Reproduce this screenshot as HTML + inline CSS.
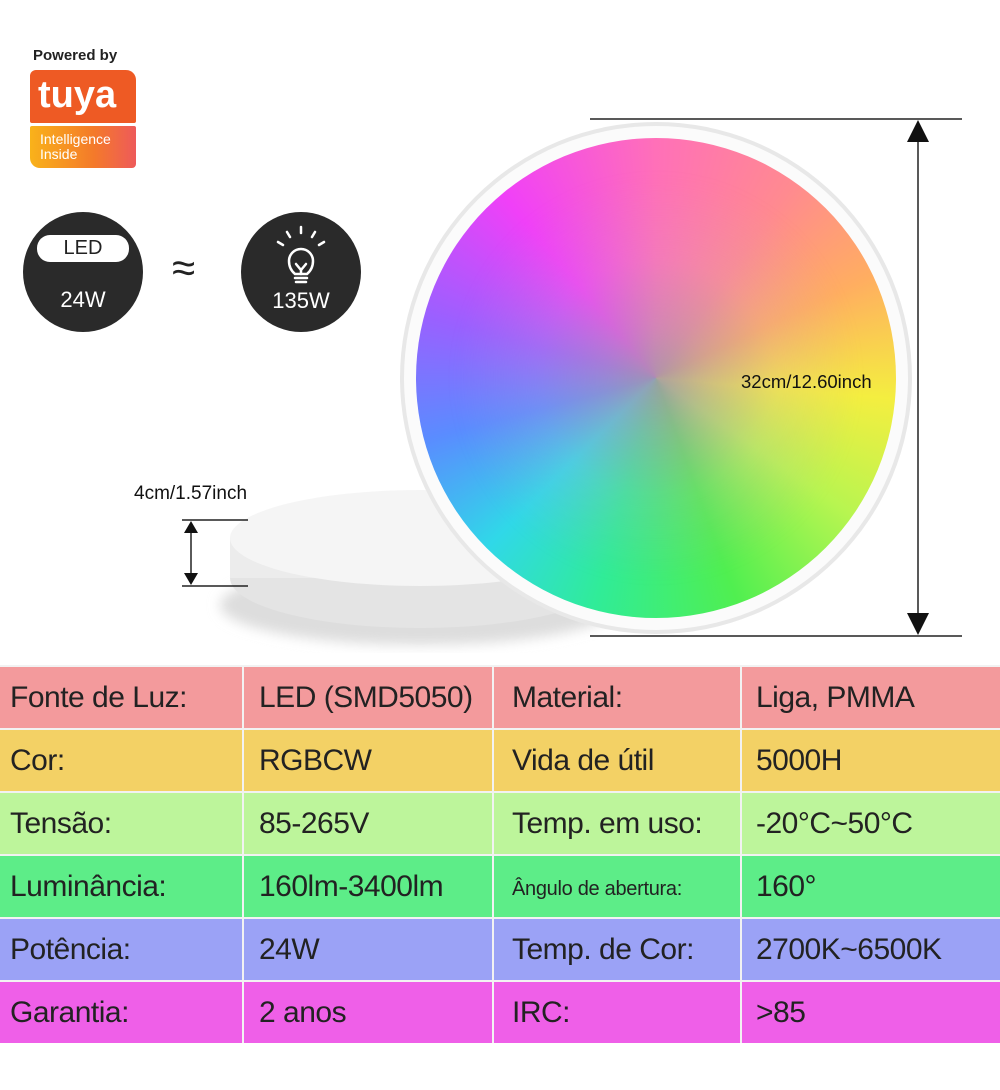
<!DOCTYPE html>
<html><head><meta charset="utf-8"><style>
*{margin:0;padding:0;box-sizing:border-box}
body{width:1000px;height:1090px;background:#fff;position:relative;overflow:hidden;font-family:"Liberation Sans",sans-serif;color:#1a1a1a}
.abs{position:absolute}
.cell{position:absolute;height:61px;font-size:30px;line-height:61px;padding-left:10px;white-space:nowrap;color:#222;letter-spacing:-0.5px}
</style></head><body>
<!-- tuya -->
<div class="abs" style="left:33px;top:47px;font-size:15px;font-weight:bold;color:#222">Powered by</div>
<div class="abs" style="left:30px;top:70px;width:106px;height:53px;background:#ee5a24;border-radius:6px 10px 2px 2px;color:#fff;font-size:38px;font-weight:bold;line-height:50px;padding-left:8px;letter-spacing:0px">tuya</div>
<div class="abs" style="left:30px;top:126px;width:106px;height:42px;background:linear-gradient(90deg,#f9b21a,#f47a2a 60%,#ee5a5a);border-radius:2px 2px 4px 10px;color:#fff;font-size:14px;line-height:15px;padding:6px 0 0 10px">Intelligence<br>Inside</div>
<!-- circles -->
<div class="abs" style="left:23px;top:212px;width:120px;height:120px;border-radius:50%;background:#2a2a2a"></div>
<div class="abs" style="left:37px;top:235px;width:92px;height:27px;border-radius:13px;background:#fff;color:#222;font-size:20px;line-height:27px;text-align:center">LED</div>
<div class="abs" style="left:23px;top:287px;width:120px;color:#fff;font-size:22px;text-align:center">24W</div>
<div class="abs" style="left:172px;top:244px;font-size:42px;color:#222">≈</div>
<div class="abs" style="left:241px;top:212px;width:120px;height:120px;border-radius:50%;background:#2a2a2a"></div>
<svg class="abs" style="left:241px;top:212px" width="120" height="120">
<g stroke="#fff" stroke-width="2.5" fill="none" stroke-linecap="round">
<path d="M54 62 Q48 57 48 49 A12 12 0 1 1 72 49 Q72 57 66 62 Z"/>
<path d="M55 52 L60 58 L65 52 M60 58 V62"/>
<path d="M54 66 H66 M55 70 H65"/>
<path d="M60 15 V21 M46 20 L49 25 M74 20 L71 25 M37 30 L42 33 M83 30 L78 33"/>
</g></svg>
<div class="abs" style="left:241px;top:288px;width:120px;color:#fff;font-size:22px;text-align:center">135W</div>
<!-- lamp -->
<svg class="abs" style="left:0;top:0" width="1000" height="665">
<defs>
<filter id="bl"><feGaussianBlur stdDeviation="6"/></filter>
</defs>
<ellipse cx="420" cy="605" rx="200" ry="40" fill="#ddd" filter="url(#bl)"/>
<ellipse cx="420" cy="578" rx="190" ry="50" fill="#e4e4e4"/>
<rect x="230" y="538" width="380" height="40" fill="#ececec"/>
<ellipse cx="420" cy="538" rx="190" ry="48" fill="#f5f5f5"/>
<circle cx="656" cy="378" r="256" fill="#e8e8e8"/>
<circle cx="656" cy="378" r="252" fill="#fbfbfb"/>
<foreignObject x="416" y="138" width="480" height="480">
<div xmlns="http://www.w3.org/1999/xhtml" style="width:480px;height:480px;border-radius:50%;background:conic-gradient(from 0deg,#ff70b8 0deg,#ff8a90 35deg,#ffae60 65deg,#f4ee40 95deg,#b8f550 125deg,#50ef50 160deg,#30ec98 195deg,#30d8e8 225deg,#5a8cff 255deg,#9a60ff 285deg,#f040f8 320deg,#ff70b8 360deg);position:relative;overflow:hidden">
<div style="position:absolute;left:0;top:0;width:480px;height:480px;border-radius:50%;background:radial-gradient(circle at 50% 50%,rgba(165,150,170,0.9) 0%,rgba(175,150,180,0.55) 15%,rgba(200,160,200,0.2) 35%,rgba(255,255,255,0) 60%);filter:blur(6px)"></div>
</div></foreignObject>
<g stroke="#222" stroke-width="1.5">
<line x1="590" y1="119" x2="962" y2="119"/>
<line x1="590" y1="636" x2="962" y2="636"/>
<line x1="918" y1="130" x2="918" y2="625"/>
<line x1="182" y1="520" x2="248" y2="520"/>
<line x1="182" y1="586" x2="248" y2="586"/>
<line x1="191" y1="528" x2="191" y2="578"/>
</g>
<path d="M918 120 L907 142 L929 142 Z M918 635 L907 613 L929 613 Z M191 521 L184 533 L198 533 Z M191 585 L184 573 L198 573 Z" fill="#111"/>
<text x="741" y="388" font-family="Liberation Sans" font-size="18.5" fill="#111">32cm/12.60inch</text>
<text x="134" y="499" font-family="Liberation Sans" font-size="19" fill="#111">4cm/1.57inch</text>
</svg>
<!-- table -->
<div class="abs" style="left:0;top:665px;width:1000px;height:378px;background:#f2f2f2"></div>
<div class="cell" style="left:0;top:667px;width:242px;background:#f39a9c">Fonte de Luz:</div>
<div class="cell" style="left:244px;top:667px;width:248px;background:#f39a9c;padding-left:15px">LED (SMD5050)</div>
<div class="cell" style="left:494px;top:667px;width:246px;background:#f39a9c;padding-left:18px">Material:</div>
<div class="cell" style="left:742px;top:667px;width:258px;background:#f39a9c;padding-left:14px">Liga, PMMA</div>

<div class="cell" style="left:0;top:730px;width:242px;background:#f3d165">Cor:</div>
<div class="cell" style="left:244px;top:730px;width:248px;background:#f3d165;padding-left:15px">RGBCW</div>
<div class="cell" style="left:494px;top:730px;width:246px;background:#f3d165;padding-left:18px">Vida de útil</div>
<div class="cell" style="left:742px;top:730px;width:258px;background:#f3d165;padding-left:14px">5000H</div>

<div class="cell" style="left:0;top:793px;width:242px;background:#bdf59b">Tensão:</div>
<div class="cell" style="left:244px;top:793px;width:248px;background:#bdf59b;padding-left:15px">85-265V</div>
<div class="cell" style="left:494px;top:793px;width:246px;background:#bdf59b;padding-left:18px">Temp. em uso:</div>
<div class="cell" style="left:742px;top:793px;width:258px;background:#bdf59b;padding-left:14px">-20°C~50°C</div>

<div class="cell" style="left:0;top:856px;width:242px;background:#5ded88">Luminância:</div>
<div class="cell" style="left:244px;top:856px;width:248px;background:#5ded88;padding-left:15px">160lm-3400lm</div>
<div class="cell" style="left:494px;top:856px;width:246px;background:#5ded88;padding-left:18px;font-size:20px;line-height:66px;letter-spacing:-0.3px">Ângulo de abertura:</div>
<div class="cell" style="left:742px;top:856px;width:258px;background:#5ded88;padding-left:14px">160°</div>

<div class="cell" style="left:0;top:919px;width:242px;background:#9ba2f6">Potência:</div>
<div class="cell" style="left:244px;top:919px;width:248px;background:#9ba2f6;padding-left:15px">24W</div>
<div class="cell" style="left:494px;top:919px;width:246px;background:#9ba2f6;padding-left:18px">Temp. de Cor:</div>
<div class="cell" style="left:742px;top:919px;width:258px;background:#9ba2f6;padding-left:14px">2700K~6500K</div>

<div class="cell" style="left:0;top:982px;width:242px;background:#ef5fe8">Garantia:</div>
<div class="cell" style="left:244px;top:982px;width:248px;background:#ef5fe8;padding-left:15px">2 anos</div>
<div class="cell" style="left:494px;top:982px;width:246px;background:#ef5fe8;padding-left:18px">IRC:</div>
<div class="cell" style="left:742px;top:982px;width:258px;background:#ef5fe8;padding-left:14px">&gt;85</div>
</body></html>
